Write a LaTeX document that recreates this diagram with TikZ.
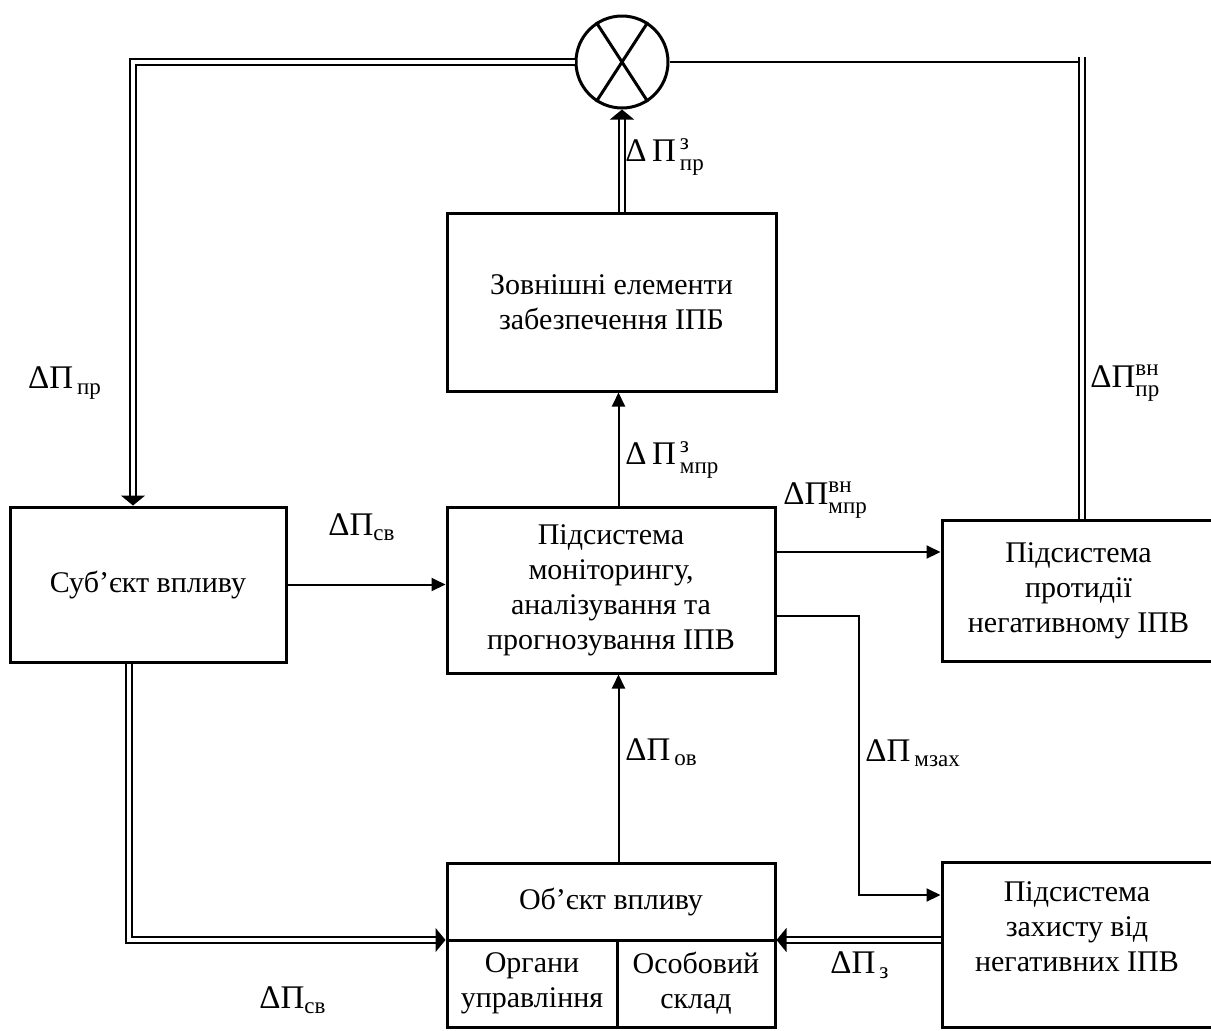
\documentclass[tikz,border=0pt]{standalone}
\usepackage{amsmath}
\usepackage{fontspec}
\setmainfont{Liberation Serif}
\usetikzlibrary{arrows.meta}
\newcommand{\indx}[1]{\text{\fontsize{11.5}{12}\selectfont #1}}

\begin{document}
\begin{tikzpicture}[x=0.5pt, y=-0.5pt,
		blok/.style = {draw, line width=1.5pt, inner sep=0pt, align=center, font=\fontsize{15}{17.5}\selectfont},
		strilka/.style = {line width=1pt, -{Triangle[length=7pt, width=6.5pt]}},
		podv/.style = {double, double distance=2.4pt, line width=0.8pt},
		podvstrilka/.style = {podv, -{Triangle[length=5pt, width=12pt]}},
		mitka/.style = {inner sep=0pt, font=\fontsize{16.5}{19}\selectfont}]
			\useasboundingbox (0,0) rectangle (1211,1030);
			%summator
			\node[circle, draw, line width=1.5pt, minimum size=46pt, inner sep=0pt] (sum) at (622,62) {};
			\draw[line width=1.5pt] (sum.57) -- (sum.237) (sum.123) -- (sum.303);
			%blocks
			\node[blok, minimum width=164.5pt, minimum height=89pt] (zovn) at (611.5,302) {Зовнішні елементи\\забезпечення ІПБ};
			\node[blok, minimum width=138pt, minimum height=77.5pt] (subj) at (148,584.5) {Суб’єкт впливу};
			\node[blok, minimum width=164pt, minimum height=83pt] (monit) at (611,590) {Підсистема\\моніторингу,\\аналізування та\\прогнозування ІПВ};
			\node[blok, minimum width=136.5pt, minimum height=70.5pt] (protyd) at (1078.5,590.5) {Підсистема\\протидії\\негативному ІПВ};
			\node[blok, minimum width=136.5pt, minimum height=82.5pt] (zakhyst) at (1078.5,944.5) {};
			\node[inner sep=0pt, align=center, font=\fontsize{15}{17.5}\selectfont] (zakhystT) at (1077,927) {Підсистема\\захисту від\\негативних ІПВ};
			%object of influence
			\node[blok, minimum width=164pt, minimum height=38.5pt] (obj) at (611,901.5) {Об’єкт впливу};
			\node[blok, minimum width=85pt, minimum height=43.5pt] (organy) at (532,983.5) {Органи\\управління};
			\node[blok, minimum width=79pt, minimum height=43.5pt] (osob) at (696,983.5) {Особовий\\склад};
			%feedback through the summator
			\coordinate (kutL) at (133,62);
			\coordinate (kutR) at (1079,62);
			\coordinate (verkhR) at (1082,57);
			\draw[podvstrilka] (sum.west) -- (kutL) -- (kutL |- subj.north);
			\draw[line width=1pt] (sum.east) -- (kutR);
			\draw[podv] (verkhR) -- (verkhR |- protyd.north);
			\draw[podvstrilka] (zovn.north -| sum.south) -- (sum.south);
			%single arrows
			\coordinate (vykhA) at (775,552);
			\coordinate (vykhB) at (775,616);
			\coordinate (povA) at (859,895);
			\draw[strilka] (organy.north east |- monit.north) -- (organy.north east |- zovn.south);
			\draw[strilka] (subj.east) -- (subj.east -| monit.west);
			\draw[strilka] (vykhA) -- (vykhA -| protyd.west);
			\draw[strilka] (vykhB) -| (povA) -- (povA -| zakhyst.west);
			\draw[strilka] (organy.north east |- obj.north) -- (organy.north east |- monit.south);
			%double arrows to the object
			\coordinate (nyzL) at (129,940);
			\coordinate (nyzR) at (900,940);
			\draw[podvstrilka] (subj.south -| nyzL) -- (nyzL) -- (nyzL -| organy.west);
			\draw[podvstrilka] (nyzR -| zakhyst.west) -- (nyzR -| osob.east);
			%labels
			\node[mitka] (lPr) at (65,383) {$\text{ΔΠ}_{\,\indx{пр}}$};
			\node[mitka, anchor=west] (lZPr) at (625,157) {$\text{Δ\,Π}^{\,\indx{з}}_{\,\indx{пр}}$};
			\node[mitka, anchor=west] (lVnPr) at (1090,383) {$\text{ΔΠ}^{\indx{вн}}_{\indx{пр}}$};
			\node[mitka, anchor=west] (lZMpr) at (625,460) {$\text{Δ\,Π}^{\,\indx{з}}_{\,\indx{мпр}}$};
			\node[mitka] (lSv) at (362,527) {$\text{ΔΠ}_{\indx{св}}$};
			\node[mitka, anchor=west] (lVnMpr) at (783,500) {$\text{ΔΠ}^{\indx{вн}}_{\indx{мпр}}$};
			\node[mitka, anchor=west] (lOv) at (625,752) {$\text{ΔΠ}_{\,\indx{ов}}$};
			\node[mitka, anchor=west] (lMzakh) at (865,753) {$\text{ΔΠ}_{\,\indx{мзах}}$};
			\node[mitka] (lSvN) at (293,1000) {$\text{ΔΠ}_{\indx{св}}$};
			\node[mitka, anchor=west] (lZ) at (830,965) {$\text{ΔΠ}_{\,\indx{з}}$};
		\end{tikzpicture}
\end{document}
